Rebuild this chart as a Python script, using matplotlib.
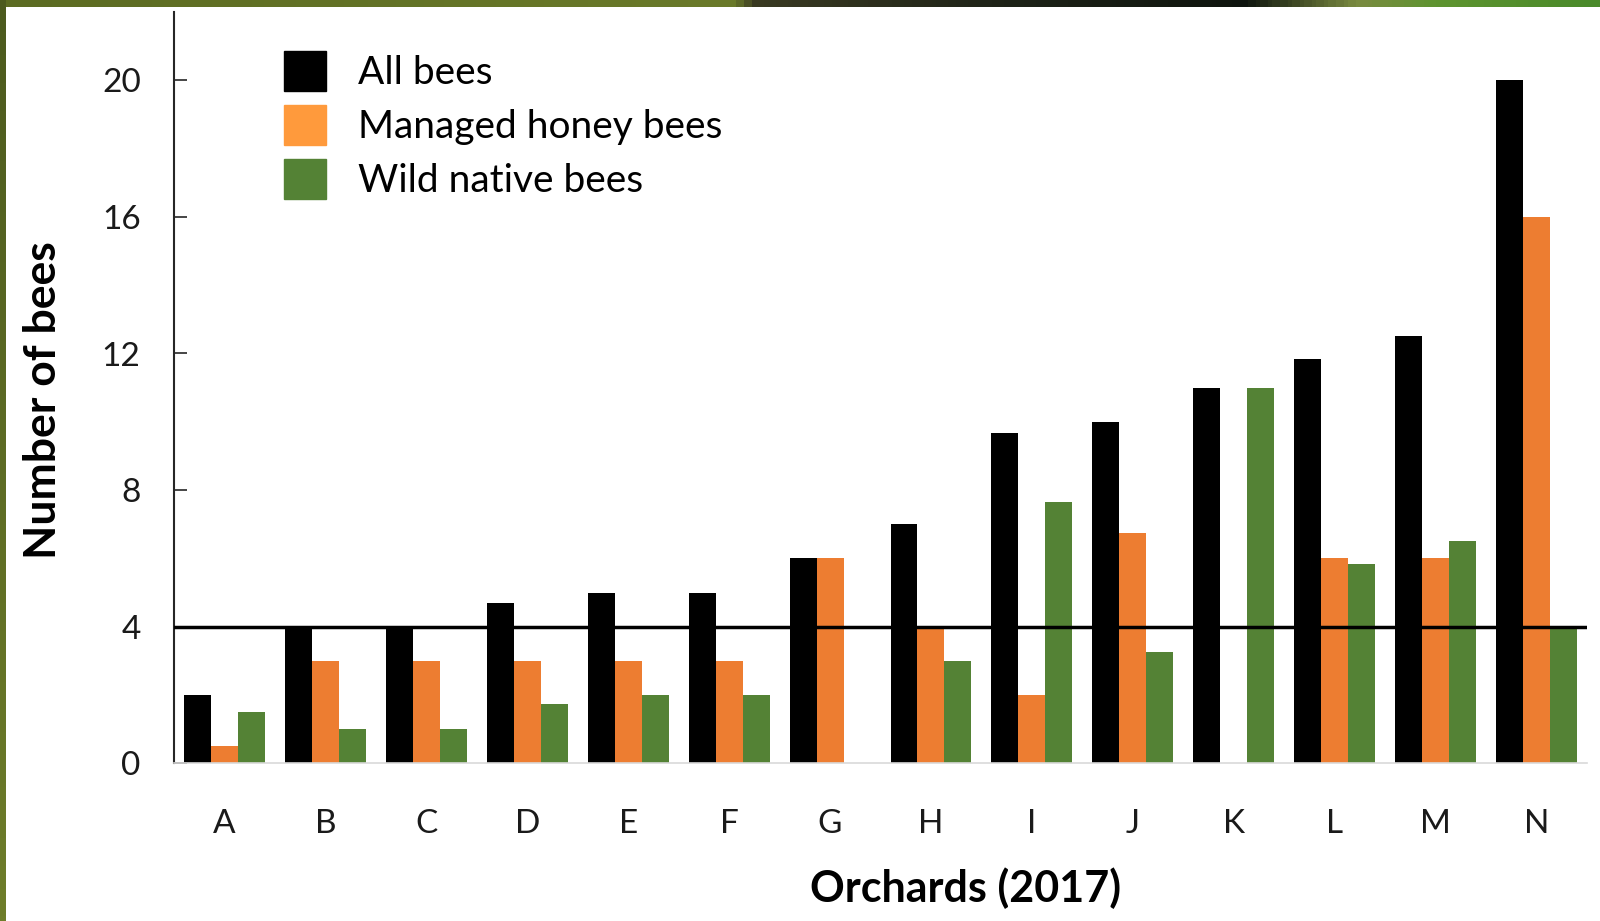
import numpy as np
import matplotlib.pyplot as plt
from matplotlib.colors import LinearSegmentedColormap
from matplotlib.patches import Patch

orchards = ['A', 'B', 'C', 'D', 'E', 'F', 'G', 'H', 'I', 'J', 'K', 'L', 'M', 'N']
all_bees = [2, 4, 4, 4.7, 5, 5, 6, 7, 9.67, 10, 11, 11.85, 12.5, 20]
managed_honey = [0.5, 3, 3, 3, 3, 3, 6, 4, 2, 6.75, 0, 6, 6, 16]
wild_native = [1.5, 1, 1, 1.75, 2, 2, 0, 3, 7.65, 3.25, 11, 5.85, 6.5, 4]
threshold = 4

series_labels = ['All bees', 'Managed honey bees', 'Wild native bees']
yticks = [0, 4, 8, 12, 16, 20]

plt.rcParams['font.family'] = ['Lato', 'DejaVu Sans']

fig = plt.figure(figsize=(16, 9.21), dpi=100)
fig.patch.set_facecolor('white')

# slide frame: olive strip down the left, gradient strip across the top
frame_cmap = LinearSegmentedColormap.from_list(
    'frame', [(0.0, '#5c6b22'), (0.46, '#6a7a2a'), (0.47, '#3a3a22'),
              (0.62, '#1f2418'), (0.78, '#0e140e'), (0.85, '#7a8a40'),
              (0.9, '#5e9430'), (1.0, '#4a8a2a')])
top = fig.add_axes([0, 1 - 7 / 921, 1, 7 / 921])
top.imshow(np.linspace(0, 1, 400)[None, :], cmap=frame_cmap, aspect='auto')
top.axis('off')
left = fig.add_axes([0, 0, 6 / 1600, 1])
left.imshow(np.linspace(0, 1, 200)[:, None], aspect='auto',
            cmap=LinearSegmentedColormap.from_list('side', ['#4c5a1e', '#6e7d2a']))
left.axis('off')

ax = fig.add_axes([174 / 1600, 157.7 / 921, 1413 / 1600, 751.3 / 921])

x = np.arange(len(orchards))
w = 0.267
ax.bar(x - w, all_bees, w, color='black')
ax.bar(x, managed_honey, w, color='#ed7d31')
ax.bar(x + w, wild_native, w, color='#548235')
ax.axhline(threshold, color='black', lw=2.5, zorder=4)

ax.set_xlim(-0.5, len(orchards) - 0.5)
ax.set_ylim(0, 22)
ax.set_yticks(yticks)
ax.set_xticks(x)
ax.set_xticklabels(orchards)
ax.tick_params(axis='y', direction='in', length=9, width=1.2, pad=24,
               labelsize=24, colors='#262626')
ax.tick_params(axis='x', length=0, pad=33, labelsize=24, colors='#262626')
ax.tick_params(labelcolor='#1a1a1a')

for side in ['top', 'right']:
    ax.spines[side].set_visible(False)
ax.spines['left'].set_color('#262626')
ax.spines['left'].set_linewidth(1.5)
ax.spines['bottom'].set_color('#d9d9d9')
ax.spines['bottom'].set_linewidth(1.2)

ax.set_ylabel('Number of bees', fontsize=32, fontweight='bold', labelpad=28)
ax.set_xlabel('Orchards (2017)', fontsize=31, fontweight='bold', labelpad=20)
ax.xaxis.label.set_x(0.56)
ax.yaxis.label.set_y(0.484)

handles = [Patch(color='black'), Patch(color='#ff9a3c'), Patch(color='#548235')]
ax.legend(handles, series_labels, loc='upper left',
          bbox_to_anchor=(284 / 1600, 1 - 51 / 921), bbox_transform=fig.transFigure,
          frameon=False, fontsize=28, handlelength=1.08, handleheight=1.2,
          handletextpad=0.82, labelspacing=0.36, borderpad=0, borderaxespad=0)

fig.savefig('out.png', dpi=100)
